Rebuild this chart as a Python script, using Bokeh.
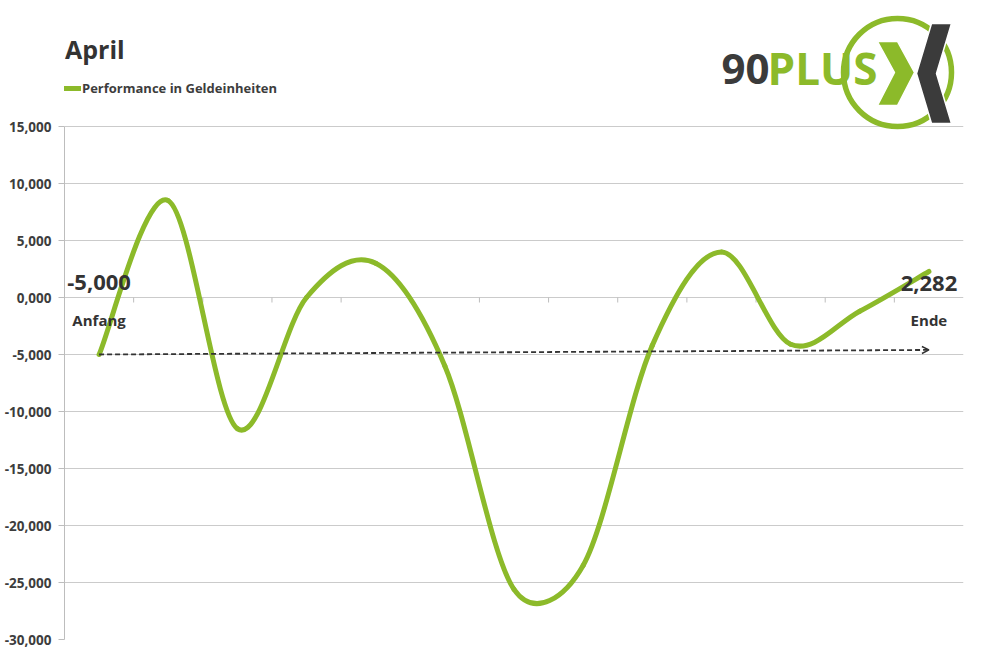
import math
from bokeh.plotting import figure
from bokeh.models import (Range1d, FixedTicker, Legend, LegendItem, Arrow,
                          OpenHead, ColumnDataSource)
from bokeh.core.properties import value
from bokeh.embed import file_html
from bokeh.resources import INLINE

# ---------------- data ----------------
positions = list(range(13))
performance = [-5000, 8500, -11500, 0, 3000, -6000, -25600,
               -23500, -4200, 4000, -4100, -1200, 2282]
series_name = "Performance in Geldeinheiten"
title_text = "April"
y_ticks = [15000, 10000, 5000, 0, -5000, -10000, -15000,
           -20000, -25000, -30000]
y_tick_labels = ["15,000", "10,000", "5,000", "0,000", "-5,000", "-10,000",
                 "-15,000", "-20,000", "-25,000", "-30,000"]
start_value_label = "-5,000"
end_value_label = "2,282"
start_name = "Anfang"
end_name = "Ende"
trend_end_value = -4600

# ---------------- style / geometry ----------------
GREEN = "#8cba2a"
DARK = "#3b3b3b"
TEXT = "#3d3d3d"
GRID = "#cbcbcb"
FONT = "Open Sans"
BASE_K = 0.37   # svg text baseline correction (fraction of font size)

FRAME_W = 899
FRAME_H = 631
Y_MIN = -30000
# frame top sits 118 px above the 15,000 gridline (513 px per 45,000)
Y_MAX = 15000 + 118 * 45000 / 513
X_MIN, X_MAX = -0.5, 12.5

SXU = FRAME_W / (X_MAX - X_MIN)       # px per x unit
SYU = FRAME_H / (Y_MAX - Y_MIN)       # px per y unit
UPP = 1 / SYU                          # y units per px

FRAME_LEFT_PX = 64
FRAME_TOP_PX = 8


def page_to_data(px, py):
    return (X_MIN + (px - FRAME_LEFT_PX) / SXU,
            Y_MAX - (py - FRAME_TOP_PX) * UPP)


def base(fs):
    # lift alphabetic baseline to compensate renderer offset
    return BASE_K * fs * UPP


p = figure(frame_width=FRAME_W, frame_height=FRAME_H,
           x_range=Range1d(X_MIN, X_MAX), y_range=Range1d(Y_MIN, Y_MAX),
           x_axis_location=None, output_backend="svg", toolbar_location=None,
           min_border_left=FRAME_LEFT_PX, min_border_right=20,
           min_border_top=FRAME_TOP_PX, min_border_bottom=18,
           outline_line_color=None,
           background_fill_color="white", border_fill_color="white")

# y axis
p.yaxis.ticker = FixedTicker(ticks=y_ticks)
p.yaxis.major_label_overrides = {t: l for t, l in zip(y_ticks, y_tick_labels)}
p.yaxis.bounds = (Y_MIN, 15000)
p.yaxis.axis_line_color = "#bdbdbd"
p.yaxis.major_tick_line_color = "#bdbdbd"
p.yaxis.major_tick_out = 6
p.yaxis.major_tick_in = 0
p.yaxis.minor_tick_line_color = None
p.yaxis.major_label_standoff = 7
p.yaxis.major_label_text_font = FONT
p.yaxis.major_label_text_font_style = "bold"
p.yaxis.major_label_text_font_size = "13.5px"
p.yaxis.major_label_text_color = TEXT

p.xgrid.visible = False
p.ygrid.grid_line_color = GRID
p.ygrid.grid_line_width = 1

# category tick marks on the zero line (between categories)
tick_x = [k + 0.5 for k in positions[:-1]]
p.segment(x0=tick_x, y0=[0] * len(tick_x), x1=tick_x,
          y1=[-5 * UPP] * len(tick_x), line_color="#bdbdbd", line_width=1)

# ---------------- smoothed line (Excel-style bezier smoothing) ----------------
n = len(performance)
P = [(positions[i] * SXU, performance[i] * SYU) for i in range(n)]


def dist(a, b):
    return math.hypot(a[0] - b[0], a[1] - b[1])


seg = dict(x0=[], y0=[], x1=[], y1=[], cx0=[], cy0=[], cx1=[], cy1=[])
for i in range(n - 1):
    pa = P[max(i - 1, 0)]
    p1 = P[i]
    p2 = P[i + 1]
    pb = P[min(i + 2, n - 1)]
    d12 = dist(p1, p2)
    d02 = dist(pa, p2)
    d13 = dist(p1, pb)
    cap1 = d02 / 6 >= d12 / 2
    cap2 = d13 / 6 >= d12 / 2
    if not cap1 and not cap2:
        f1 = f2 = 1 / 6
    elif cap1 and cap2:
        f1 = (d12 / 2) / d02
        f2 = (d12 / 2) / d13
    elif cap1:
        f1 = f2 = (d12 / 2) / d02
    else:
        f1 = f2 = (d12 / 2) / d13
    c1 = (p1[0] + (p2[0] - pa[0]) * f1, p1[1] + (p2[1] - pa[1]) * f1)
    c2 = (p2[0] - (pb[0] - p1[0]) * f2, p2[1] - (pb[1] - p1[1]) * f2)
    seg["x0"].append(positions[i])
    seg["y0"].append(performance[i])
    seg["x1"].append(positions[i + 1])
    seg["y1"].append(performance[i + 1])
    seg["cx0"].append(c1[0] / SXU)
    seg["cy0"].append(c1[1] / SYU)
    seg["cx1"].append(c2[0] / SXU)
    seg["cy1"].append(c2[1] / SYU)

src = ColumnDataSource(seg)
curve = p.bezier(x0="x0", y0="y0", x1="x1", y1="y1", cx0="cx0", cy0="cy0",
                 cx1="cx1", cy1="cy1", source=src, line_color=GREEN,
                 line_width=5, line_cap="round", line_join="round")

# trend arrow
p.add_layout(Arrow(end=OpenHead(size=7, line_color="#333333", line_width=1.5),
                   x_start=positions[0], y_start=performance[0],
                   x_end=positions[-1], y_end=trend_end_value,
                   line_color="#333333", line_width=1.8, line_dash="5 3"))

# value / name labels
p.text(x=[positions[0], positions[-1]],
       y=[7 * UPP + base(22), 6 * UPP + base(22)],
       text=[start_value_label, end_value_label], text_align="center",
       text_baseline="alphabetic", text_font=value(FONT),
       text_font_style="bold", text_font_size="22px", text_color="#333333")
p.text(x=[positions[0], positions[-1]],
       y=[-28 * UPP + base(15), -28 * UPP + base(15)],
       text=[start_name, end_name], text_align="center",
       text_baseline="alphabetic", text_font=value(FONT),
       text_font_style="bold", text_font_size="15px", text_color="#333333")

# title
tx, ty = page_to_data(64.5, 58)
p.text(x=[tx], y=[ty + base(25)], text=[title_text], text_align="left",
       text_baseline="alphabetic", text_font=value(FONT),
       text_font_style="bold", text_font_size="25px", text_color="#333333")

# legend
legend = Legend(items=[LegendItem(label=series_name, renderers=[curve])],
                location=(0, 542), orientation="vertical",
                glyph_width=17, glyph_height=14, label_standoff=1,
                label_height=16, padding=0, margin=0, spacing=0,
                border_line_color=None, background_fill_alpha=0,
                label_text_font=FONT, label_text_font_style="bold",
                label_text_font_size="13px", label_text_color=TEXT)
p.add_layout(legend)

# ---------------- logo ----------------
rx, ry = page_to_data(897, 72)
p.scatter(x=[rx], y=[ry], marker="circle", size=108, fill_color=None,
          line_color=GREEN, line_width=5.5)

green_chev = [(877, 41), (897, 41), (914, 72), (897, 105), (877, 105), (894, 72)]
dark_chev = [(931, 23), (951, 23), (936, 73), (951, 123), (931, 123), (916, 73)]
for pts, col in ((green_chev, GREEN), (dark_chev, DARK)):
    xs, ys = zip(*[page_to_data(a, b) for a, b in pts])
    p.patch(x=list(xs), y=list(ys), fill_color=col, line_color="white",
            line_width=1.5)

lx1, ly = page_to_data(721, 84)
lx2, _ = page_to_data(767, 84)
p.text(x=[lx1], y=[ly + base(42)], text=["90"], text_align="left",
       text_baseline="alphabetic", text_font=value(FONT),
       text_font_style="bold", text_font_size="42px", text_color=DARK)
p.text(x=[lx2], y=[ly + base(44)], text=["PLUS"], text_align="left",
       text_baseline="alphabetic", text_font=value(FONT),
       text_font_style="bold", text_font_size="44px", text_color=GREEN)

open("out.html", "w").write(file_html(p, INLINE))
